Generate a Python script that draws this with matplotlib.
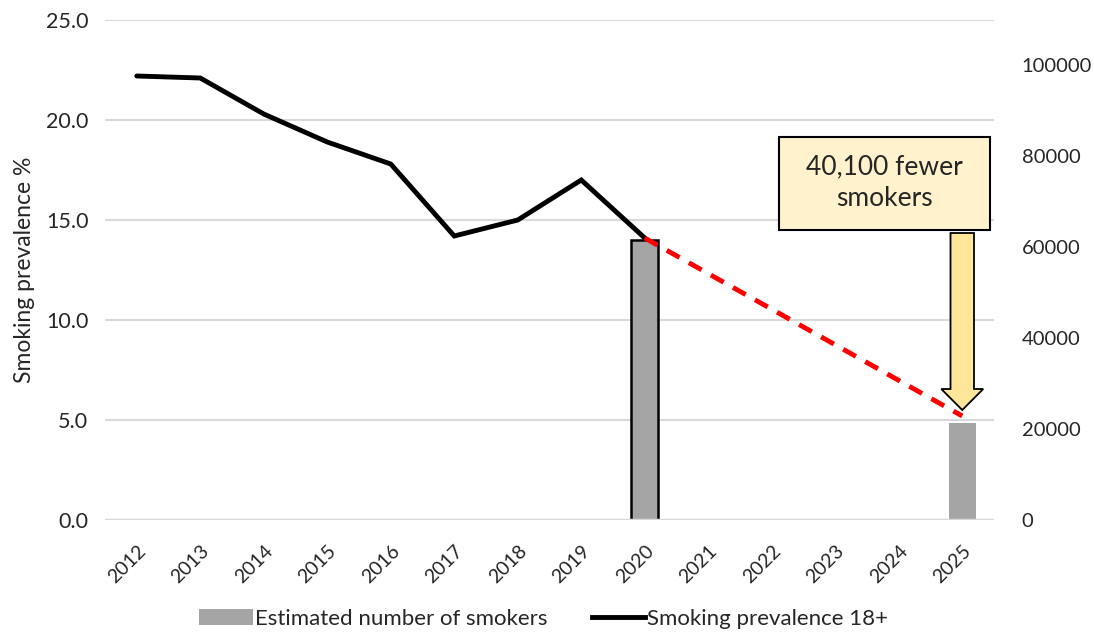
import matplotlib
matplotlib.use("Agg")
import matplotlib.pyplot as plt
from matplotlib.patches import Rectangle, FancyArrow, Patch
from matplotlib.lines import Line2D

plt.rcParams['font.family'] = ['Lato', 'DejaVu Sans']

# data
years = [str(y) for y in range(2012, 2026)]
prevalence = [22.2, 22.1, 20.3, 18.9, 17.8, 14.2, 15.0, 17.0, 14.1]
proj_years = ["2020", "2025"]
proj_prevalence = [14.1, 5.2]
smoker_years = ["2020", "2025"]
smokers = [61500, 21400]
note = "40,100 fewer\nsmokers"

GRID = "#D9D9D9"
BAR = "#A5A5A5"
TXT = "#262626"

fig = plt.figure(figsize=(10.94, 6.41), dpi=100)
ax = fig.add_axes([105 / 1094, 121 / 641, 889 / 1094, 500 / 641])
ax2 = ax.twinx()

xpos = {y: i for i, y in enumerate(years)}

ax.set_ylim(0, 25)
ax2.set_ylim(0, 110000)
ratio = 110000 / 25

# gridlines sit on the lower (bar) axis so bars cover them
for v in [5, 10, 15, 20, 25]:
    ax2.axhline(v * ratio, color=GRID, lw=1.5, zorder=0)
ax2.axhline(0, color=GRID, lw=2.5, zorder=3)

# bars on the right axis
for yr, val in zip(smoker_years, smokers):
    edge = "black" if yr == "2020" else "none"
    ax2.bar(xpos[yr], val, width=0.42, color=BAR, edgecolor=edge, linewidth=1.8, zorder=2)

ax2.set_yticks(range(0, 100001, 20000))
ax.set_yticks([0, 5, 10, 15, 20, 25])
ax.set_yticklabels([f"{v:.1f}" for v in [0, 5, 10, 15, 20, 25]])
ax.set_xlim(-0.5, len(years) - 0.5)
ax.set_xticks(range(len(years)))
ax.set_xticklabels(years, rotation=45, ha="right", rotation_mode="anchor")

ax.set_zorder(ax2.get_zorder() + 1)
ax.patch.set_visible(False)

# lines on left axis
ax.plot([xpos[y] for y in years[:len(prevalence)]], prevalence, color="black", lw=3.5,
        solid_capstyle="round", solid_joinstyle="miter", zorder=4)
ax.plot([xpos[y] for y in proj_years], proj_prevalence, color="#FF0000", lw=3.5,
        dashes=(3, 2.2), zorder=4)

# callout box and arrow
ax.add_patch(Rectangle((10.11, 14.5), 3.33, 4.65, facecolor="#FFF2CC", edgecolor="black",
                       lw=1.5, zorder=5))
ax.text(11.775, 16.85, note, ha="center", va="center", fontsize=19,
        linespacing=1.35, color=TXT, zorder=6)
ax.add_patch(FancyArrow(13, 14.35, 0, -8.85, width=0.37, head_width=0.66, head_length=1.05,
                        length_includes_head=True, facecolor="#FFE699", edgecolor="black",
                        lw=1.3, zorder=5))

for a in (ax, ax2):
    for s in a.spines.values():
        s.set_visible(False)
    a.tick_params(length=0)
ax.tick_params(axis="y", labelsize=15.5, pad=12)
ax.tick_params(axis="x", labelsize=14, pad=16)
ax2.tick_params(axis="y", labelsize=14.5, pad=20)
for t in ax.get_xticklabels() + ax.get_yticklabels() + ax2.get_yticklabels():
    t.set_color(TXT)

ax.set_ylabel("Smoking prevalence %", fontsize=16.5, color=TXT, labelpad=8)

handles = [Patch(facecolor=BAR, edgecolor="none"),
           Line2D([0], [0], color="black", lw=3.5)]
fig.legend(handles, ["Estimated number of smokers", "Smoking prevalence 18+"],
           loc="lower center", bbox_to_anchor=(0.497, -0.012), ncol=2, frameon=False,
           fontsize=16, handlelength=2.4, columnspacing=2.0, handletextpad=0.1)
for t in fig.legends[0].get_texts():
    t.set_color(TXT)

fig.savefig("out.png", dpi=100)
